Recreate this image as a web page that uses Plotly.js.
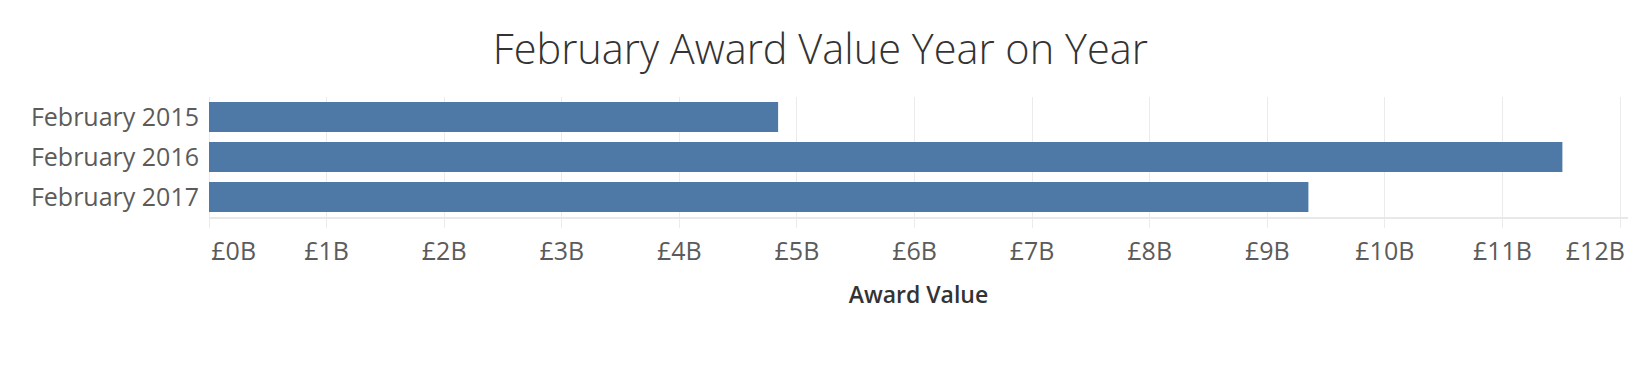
<!DOCTYPE html>
<html>
<head>
<meta charset="utf-8">
<script src="https://cdn.plot.ly/plotly-3.0.1.min.js"></script>
<style>
  html, body { margin: 0; padding: 0; background: #ffffff; }
  #chart { width: 1644px; height: 372px; }
</style>
</head>
<body>
<div id="chart"></div>
<script>
// ---- data ----
const categories = ["February 2015", "February 2016", "February 2017"];
const awardValueBillions = [4.84, 11.51, 9.35];
const tickValues = [0, 1, 2, 3, 4, 5, 6, 7, 8, 9, 10, 11, 12];
const tickLabels = ["£0B", "£1B", "£2B", "£3B", "£4B", "£5B", "£6B", "£7B", "£8B", "£9B", "£10B", "£11B", "£12B"];

// ---- layout / styling ----
const xMax = 12.068;
const edgeShift = 0.21; // first/last labels kept inside the axis ends, Tableau style
const labelPositions = tickValues.map((v, i) =>
  i === 0 ? v + edgeShift : (i === tickValues.length - 1 ? v - edgeShift : v));

const gridColor = "#ebebeb";
const labelColor = "#5b5b5b";
const fontFamily = "'Open Sans', 'Noto Sans', sans-serif";

const traces = [
  {
    type: "bar",
    orientation: "h",
    x: awardValueBillions,
    y: categories,
    width: 0.75,
    marker: { color: "#4e79a7" },
    hoverinfo: "skip",
    xaxis: "x",
    yaxis: "y"
  },
  {
    type: "scatter",
    mode: "none",
    x: awardValueBillions,
    y: categories,
    hoverinfo: "skip",
    showlegend: false,
    xaxis: "x2",
    yaxis: "y"
  }
];

const layout = {
  width: 1644,
  height: 372,
  paper_bgcolor: "#ffffff",
  plot_bgcolor: "#ffffff",
  showlegend: false,
  margin: { l: 209, r: 16, t: 97, b: 155, pad: 0 },
  title: {
    text: "February Award Value Year on Year",
    font: { family: fontFamily, size: 41.5, color: "#333333", weight: 300 },
    x: 0.499,
    xref: "container",
    xanchor: "center",
    y: 0.868,
    yref: "container",
    yanchor: "middle"
  },
  xaxis: {
    range: [0, xMax],
    tickvals: tickValues,
    showticklabels: false,
    showgrid: true,
    gridcolor: gridColor,
    gridwidth: 1,
    zeroline: true,
    zerolinecolor: gridColor,
    zerolinewidth: 1,
    showline: true,
    linecolor: "#e8e8e8",
    linewidth: 1.5,
    ticks: "outside",
    ticklen: 9,
    tickcolor: gridColor,
    tickwidth: 1,
    fixedrange: true
  },
  xaxis2: {
    overlaying: "x",
    anchor: "y",
    side: "bottom",
    range: [0, xMax],
    tickmode: "array",
    tickvals: labelPositions,
    ticktext: tickLabels,
    showgrid: false,
    zeroline: false,
    showline: false,
    ticks: "",
    ticklabelstandoff: 17,
    tickfont: { family: fontFamily, size: 25, color: labelColor },
    title: {
      text: "Award Value",
      font: { family: fontFamily, size: 23, color: "#333333", weight: 600 },
      standoff: 20
    },
    fixedrange: true
  },
  yaxis: {
    type: "category",
    categoryorder: "array",
    categoryarray: categories,
    range: [2.5, -0.5],
    showgrid: false,
    zeroline: false,
    showline: false,
    ticks: "",
    ticklabelstandoff: 9,
    tickfont: { family: fontFamily, size: 25, color: labelColor },
    fixedrange: true
  },
  bargap: 0.25
};

Plotly.newPlot("chart", traces, layout, { displayModeBar: false, staticPlot: true });
</script>
</body>
</html>
